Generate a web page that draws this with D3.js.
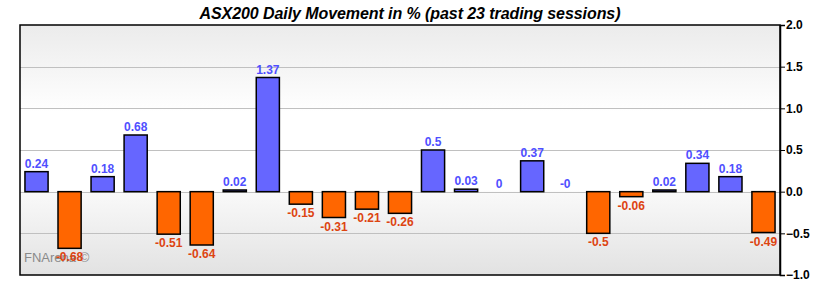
<!DOCTYPE html>
<html>
<head>
<meta charset="utf-8">
<script src="https://cdn.jsdelivr.net/npm/d3@7"></script>
<style>
    body { margin: 0; background: #fff; }
    #chart { width: 820px; height: 290px; }
    text { font-family: "Liberation Sans", Arial, sans-serif; }
</style>
</head>
<body>
<div id="chart"></div>
<script>
// data
let sessions = d3.range(1, 24);
let moves = [0.24, -0.68, 0.18, 0.68, -0.51, -0.64, 0.02, 1.37, -0.15, -0.31, -0.21, -0.26,
    0.5, 0.03, 0, 0.37, -0, -0.5, -0.06, 0.02, 0.34, 0.18, -0.49];
let moveLabels = ["0.24", "-0.68", "0.18", "0.68", "-0.51", "-0.64", "0.02", "1.37", "-0.15", "-0.31", "-0.21", "-0.26",
    "0.5", "0.03", "0", "0.37", "-0", "-0.5", "-0.06", "0.02", "0.34", "0.18", "-0.49"];
let yTicks = [-1.0, -0.5, 0.0, 0.5, 1.0, 1.5, 2.0];

let data = sessions.map((s, i) => ({ s: s, v: moves[i], label: moveLabels[i] }));

let margin = { top: 25, right: 40, bottom: 15, left: 20 };
let width = 820 - margin.left - margin.right;
let height = 290 - margin.top - margin.bottom;

let svg = d3.select("#chart").append("svg")
    .attr("width", 820)
    .attr("height", 290);

// background gradient of the plot area
let defs = svg.append("defs");
let grad = defs.append("linearGradient")
    .attr("id", "bg")
    .attr("x1", 0).attr("y1", 0).attr("x2", 0).attr("y2", 1);
grad.append("stop").attr("offset", "0%").attr("stop-color", "#ebebeb");
grad.append("stop").attr("offset", "35%").attr("stop-color", "#ffffff");
grad.append("stop").attr("offset", "66%").attr("stop-color", "#ffffff");
grad.append("stop").attr("offset", "67%").attr("stop-color", "#f9f9f9");
grad.append("stop").attr("offset", "100%").attr("stop-color", "#e2e2e2");

svg.append("text")
    .attr("x", 410)
    .attr("y", 19)
    .attr("text-anchor", "middle")
    .attr("textLength", 421)
    .style("font-size", "16px")
    .style("font-weight", "bold")
    .style("font-style", "italic")
    .text("ASX200 Daily Movement in % (past 23 trading sessions)");

let g = svg.append("g")
    .attr("transform", `translate(${margin.left}, ${margin.top})`);

let x = d3.scaleBand()
    .domain(sessions)
    .range([0, width])
    .paddingInner(0.3)
    .paddingOuter(0.15);

let y = d3.scaleLinear()
    .domain([-1, 2])
    .range([height, 0]);

g.append("rect")
    .attr("width", width)
    .attr("height", height)
    .attr("fill", "url(#bg)");

// grid
g.selectAll(".grid")
    .data(yTicks.filter(d => d > -1 && d < 2))
    .enter()
    .append("line")
    .attr("class", "grid")
    .attr("x1", 0)
    .attr("x2", width)
    .attr("y1", d => Math.round(y(d)) + 0.5)
    .attr("y2", d => Math.round(y(d)) + 0.5)
    .attr("stroke", "#c0c0c0")
    .attr("stroke-width", 1);

// watermark
g.append("text")
    .attr("x", 4)
    .attr("y", 237)
    .style("font-size", "13px")
    .attr("fill", "#8a8a8a")
    .text("FNArena ©");

// bars
g.selectAll(".bar")
    .data(data)
    .enter()
    .append("rect")
    .attr("class", "bar")
    .attr("x", d => x(d.s))
    .attr("width", x.bandwidth())
    .attr("y", d => y(Math.max(0, d.v)))
    .attr("height", d => Math.abs(y(d.v) - y(0)))
    .attr("fill", d => d.v >= 0 ? "#6666ff" : "#ff6600")
    .attr("stroke", "#000")
    .attr("stroke-width", 1.5)
    .style("display", d => d.v === 0 ? "none" : null);

// value labels
g.selectAll(".val")
    .data(data)
    .enter()
    .append("text")
    .attr("class", "val")
    .attr("x", d => x(d.s) + x.bandwidth() / 2)
    .attr("y", d => d.v < 0 ? y(d.v) + 13 : y(d.v) - 4)
    .attr("text-anchor", "middle")
    .style("font-size", "12px")
    .style("font-weight", "bold")
    .attr("fill", d => d.v < 0 ? "#dd4411" : "#4f4fff")
    .text(d => d.label);

// frame
g.append("rect")
    .attr("width", width)
    .attr("height", height)
    .attr("fill", "none")
    .attr("stroke", "#000")
    .attr("stroke-width", 1.5);

// right axis
let yAxis = d3.axisRight(y)
    .tickValues(yTicks)
    .tickFormat(d3.format(".1f"))
    .tickSize(5);

let ax = g.append("g")
    .attr("transform", `translate(${width}, 0)`)
    .call(yAxis);

ax.select(".domain").attr("stroke-width", 1.5);
ax.selectAll("text")
    .style("font-size", "12px")
    .style("font-weight", "bold")
    .style("font-family", "'Liberation Sans', Arial, sans-serif")
    .attr("x", 6)
    .attr("fill", "#000");
</script>
</body>
</html>
